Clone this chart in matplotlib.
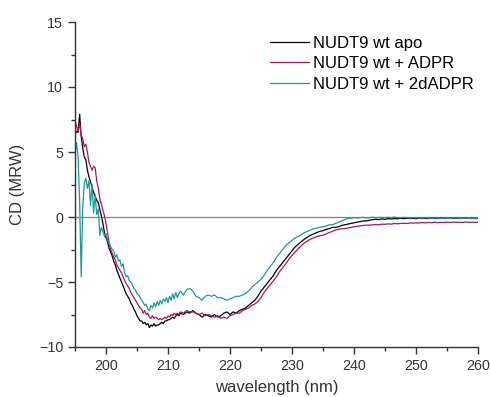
import numpy as np
import matplotlib
matplotlib.use("Agg")
import matplotlib.pyplot as plt
from matplotlib.ticker import MultipleLocator

# wavelength grid (nm): 0.25 nm steps 195-212, 0.5 nm steps 212.5-260
wavelength = np.concatenate([np.arange(195.0, 212.01, 0.25), np.arange(212.5, 260.01, 0.5)])

apo = [
    6.4, 6.6, 6.5, 7.9,
    6.2, 5.3, 4.6, 4.4,
    3.6, 3.1, 2.7, 2.3,
    1.9, 1.6, 1.3, 1.1,
    0.6, 0.1, -0.5, -1.2,
    -1.6, -1.9, -2.4, -2.7,
    -3.0, -3.4, -3.7, -4.1,
    -4.4, -4.7, -5.0, -5.3,
    -5.6, -5.9, -6.1, -6.3,
    -6.6, -6.8, -7.1, -7.3,
    -7.6, -7.8, -8.0, -8.0,
    -8.2, -8.1, -8.3, -8.2,
    -8.5, -8.3, -8.4, -8.2,
    -8.4, -8.3, -8.3, -8.2,
    -8.1, -8.2, -8.0, -8.0,
    -7.9, -7.9, -7.8, -7.7,
    -7.8, -7.6, -7.5, -7.6,
    -7.4,
    -7.5, -7.3, -7.4, -7.2, -7.4, -7.5, -7.7, -7.5, -7.6, -7.7,
    -7.5, -7.7, -7.6, -7.4, -7.3, -7.5, -7.3, -7.4, -7.2, -7.1,
    -7.0, -6.8, -6.6, -6.4, -6.1, -5.7, -5.4, -5.1, -4.8, -4.5,
    -4.1, -3.8, -3.5, -3.2, -2.9, -2.6, -2.3, -2.1, -1.9, -1.7,
    -1.55, -1.4, -1.3, -1.2, -1.1, -1.05, -0.95, -0.9, -0.8, -0.8,
    -0.75, -0.65, -0.6, -0.55, -0.5, -0.45, -0.4, -0.35, -0.3, -0.3,
    -0.25, -0.2, -0.18, -0.2, -0.15, -0.17, -0.13, -0.15, -0.12, -0.14,
    -0.1, -0.13, -0.1, -0.12, -0.1, -0.13, -0.08, -0.11, -0.1, -0.12,
    -0.09, -0.1, -0.12, -0.08, -0.1, -0.11, -0.09, -0.1, -0.08, -0.12,
    -0.1, -0.09, -0.11, -0.1, -0.12, -0.1,
]

adpr = [
    7.4, 7.0, 6.6, 7.2,
    6.3, 6.0, 5.4, 5.6,
    5.0, 4.2, 3.9, 3.6,
    3.9, 3.8, 2.8, 2.2,
    1.4, 1.0, 0.5, 0.1,
    -0.5, -1.2, -2.0, -2.5,
    -2.8, -3.1, -3.3, -3.7,
    -3.9, -4.1, -4.3, -4.6,
    -4.9, -5.1, -5.3, -5.5,
    -5.8, -6.0, -6.2, -6.4,
    -6.6, -6.8, -7.0, -7.1,
    -7.4, -7.2, -7.5, -7.4,
    -7.7, -7.8, -7.6, -7.8,
    -7.7, -7.8, -7.9, -7.8,
    -7.9, -7.8, -7.7, -7.8,
    -7.6, -7.7, -7.5, -7.6,
    -7.4, -7.5, -7.4, -7.5,
    -7.3,
    -7.4, -7.2, -7.3, -7.3, -7.4, -7.5, -7.4, -7.6, -7.5, -7.6,
    -7.7, -7.6, -7.8, -7.7, -7.8, -7.6, -7.5, -7.4, -7.4, -7.2,
    -7.1, -7.0, -6.8, -6.7, -6.5, -6.2, -5.8, -5.5, -5.2, -4.9,
    -4.6, -4.2, -3.9, -3.6, -3.25, -2.95, -2.7, -2.45, -2.2, -2.0,
    -1.85, -1.7, -1.6, -1.5, -1.45, -1.4, -1.3, -1.2, -1.1, -1.0,
    -0.95, -0.9, -0.9, -0.85, -0.8, -0.75, -0.72, -0.68, -0.65, -0.62,
    -0.63, -0.6, -0.58, -0.6, -0.55, -0.56, -0.53, -0.55, -0.5, -0.52,
    -0.5, -0.48, -0.5, -0.46, -0.47, -0.45, -0.46, -0.43, -0.45, -0.42,
    -0.44, -0.4, -0.43, -0.41, -0.42, -0.4, -0.42, -0.39, -0.41, -0.4,
    -0.42, -0.38, -0.41, -0.4, -0.42, -0.4,
]

dadpr = [
    4.8, 5.7, 4.6, 1.2,
    -4.6, 0.8, 2.6, 3.0,
    2.2, 2.8, 0.9, 2.5,
    0.3, 1.7, 0.2, 0.6,
    -1.4, -0.8, -1.1, -1.5,
    -1.3, -1.8, -2.0, -2.3,
    -2.5, -2.6, -3.1, -2.9,
    -3.4, -3.3, -3.8, -3.6,
    -4.3, -4.6, -4.5, -4.9,
    -5.0, -5.2, -5.5, -5.6,
    -5.9, -6.0, -6.2, -6.4,
    -6.6, -6.8, -6.7, -7.1,
    -7.2, -6.8, -7.0, -6.6,
    -6.9, -6.5, -6.8, -6.4,
    -6.7, -6.3, -6.5, -6.2,
    -6.6, -6.1, -6.4, -5.9,
    -6.3, -5.8, -6.2, -5.9,
    -5.7,
    -6.0, -5.6, -5.5, -5.7, -6.1, -6.2, -6.4, -6.1, -6.0, -6.1,
    -6.0, -6.2, -6.2, -6.3, -6.4, -6.3, -6.2, -6.1, -6.1, -6.0,
    -5.9, -5.7, -5.4, -5.2, -5.0, -4.8, -4.5, -4.1, -3.8, -3.5,
    -3.1, -2.8, -2.5, -2.2, -2.0, -1.8, -1.6, -1.5, -1.35, -1.2,
    -1.1, -1.0, -0.9, -0.85, -0.8, -0.75, -0.7, -0.6, -0.6, -0.5,
    -0.4, -0.3, -0.2, -0.1, -0.1, -0.05, -0.08, -0.05, -0.03, -0.07,
    -0.05, -0.02, -0.06, -0.04, -0.03, -0.06, -0.02, -0.05, -0.01, -0.04,
    -0.06, -0.03, -0.05, -0.08, -0.04, -0.07, -0.06, -0.09, -0.05, -0.08,
    -0.1, -0.07, -0.09, -0.12, -0.08, -0.1, -0.11, -0.08, -0.06, -0.1,
    -0.12, -0.08, -0.1, -0.13, -0.09, -0.12,
]

labels = ["NUDT9 wt apo", "NUDT9 wt + ADPR", "NUDT9 wt + 2dADPR"]
colors = ["#000000", "#B0135F", "#1A9A9A"]

assert len(apo) == len(wavelength) and len(adpr) == len(wavelength) and len(dadpr) == len(wavelength)

plt.rcParams['font.family'] = ['Liberation Sans', 'DejaVu Sans']

fig = plt.figure(figsize=(4.9, 3.97), dpi=100)
ax = fig.add_axes([75/490, 1-347/397, (478-75)/490, (347-22)/397])

ax.axhline(0, color="#808080", lw=0.9, zorder=1)
for y, c, lab in zip([apo, adpr, dadpr], colors, labels):
    ax.plot(wavelength, y, color=c, lw=0.9, label=lab, zorder=2)

ax.set_xlim(195, 260)
ax.set_ylim(-10, 15)
ax.xaxis.set_minor_locator(MultipleLocator(5))
ax.yaxis.set_major_locator(MultipleLocator(5))
ax.yaxis.set_minor_locator(MultipleLocator(2.5))
ax.set_xticks([200, 210, 220, 230, 240, 250, 260])

for s in ["top", "right"]:
    ax.spines[s].set_visible(False)
for s in ["left", "bottom"]:
    ax.spines[s].set_color("#333333")
    ax.spines[s].set_linewidth(1.0)

ax.tick_params(which="major", direction="out", length=5, width=1.0, color="#333333",
               labelsize=10.3, labelcolor="#333333")
ax.tick_params(which="minor", direction="out", length=3, width=1.0, color="#333333")

ax.set_xlabel("wavelength (nm)", fontsize=12, color="#333333", labelpad=5)
ax.set_ylabel("CD (MRW)", fontsize=12, color="#333333", labelpad=10)

leg = fig.legend(loc="upper left", bbox_to_anchor=(270/490, 1-36/397), frameon=False,
                 fontsize=12, handlelength=2.35, handletextpad=0.25, labelspacing=0.32,
                 borderpad=0, borderaxespad=0)

fig.savefig("out.png", dpi=100)
